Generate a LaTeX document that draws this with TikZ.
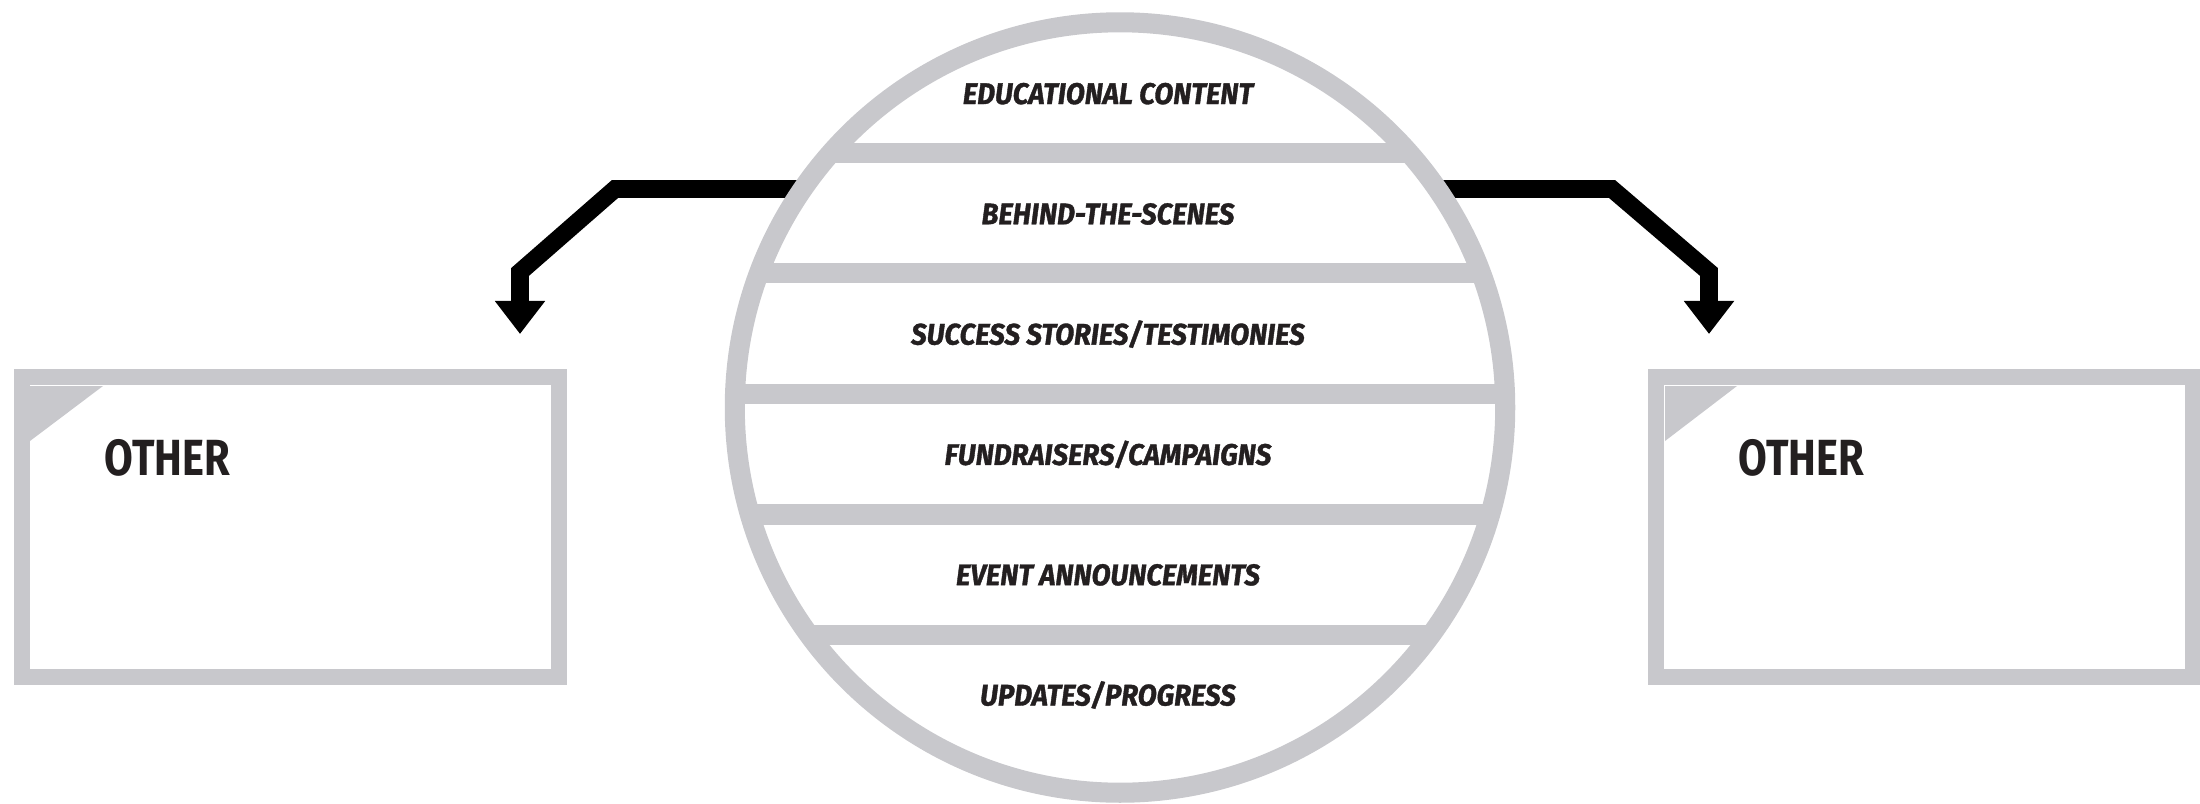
\documentclass[tikz,border=0pt]{standalone}
\usepackage{fontspec}
\usetikzlibrary{arrows.meta}
\newfontfamily\itemfont{Fira Sans}[FakeStretch=0.93,FakeBold=1.2]
\newfontfamily\boxfont{Fira Sans}[FakeStretch=0.82]
\definecolor{ringgray}{RGB}{200,200,204}
\definecolor{inkdark}{RGB}{35,31,32}

\begin{document}
\begin{tikzpicture}[x=0.01cm,y=-0.01cm,
  ring/.style={circle,draw=ringgray,fill=white,line width=5.7pt,inner sep=0pt,minimum size=7.7cm},
  panel/.style={rectangle,draw=ringgray,line width=4.55pt,inner sep=0pt,minimum width=5.37cm,minimum height=3cm},
  band/.style={draw=ringgray,line width=5.7pt},
  item/.style={font=\itemfont\bfseries\itshape\fontsize{8.47}{10}\selectfont,text=inkdark,inner sep=0pt,anchor=base},
  tag/.style={font=\boxfont\bfseries\fontsize{14.45}{16}\selectfont,text=inkdark,inner sep=0pt,anchor=base west},
  flow/.style={line width=5pt,-{Triangle[width=13.7pt,length=9.4pt]}}]
  \useasboundingbox (0,0) rectangle (2200,803);
  % side boxes
  \node[panel] (leftbox) at (290.5,527) {};
  \node[panel] (rightbox) at (1924.5,527) {};
  \fill[ringgray] (30,386) -- (103,386) -- (30,441) -- cycle;
  \fill[ringgray] (1665,386) -- (1737,386) -- (1665,441) -- cycle;
  \node[tag] (lefttag) at (104,475) {OTHER};
  \node[tag] (righttag) at (1738,475) {OTHER};
  % arrows, start hidden under the circle
  \coordinate (hubc) at (1120,407.5);
  \coordinate (lbend) at (615,189);
  \coordinate (lknee) at (520,272);
  \coordinate (ltip) at (520,334);
  \coordinate (rbend) at (1612,189);
  \coordinate (rknee) at (1709,272);
  \coordinate (rtip) at (1709,334);
  \draw[flow] (lbend -| hubc) -- (lbend) -- (lknee) -- (ltip);
  \draw[flow] (rbend -| hubc) -- (rbend) -- (rknee) -- (rtip);
  \node[ring] (hub) at (hubc) {};
  % bands inside the circle
  \begin{scope}
    \clip (hub.center) circle (385);
    \foreach \y in {152.7,273.3,393.9,514.5,635.1}
      \draw[band] (700,\y) -- (1540,\y);
  \end{scope}
  \foreach \txt [count=\i from 0] in {EDUCATIONAL CONTENT,BEHIND-THE-SCENES,SUCCESS STORIES/TESTIMONIES,FUNDRAISERS/CAMPAIGNS,EVENT ANNOUNCEMENTS,UPDATES/PROGRESS}
    \node[item] (item\i) at (1108,{104+120.3*\i}) {\txt};
\end{tikzpicture}
\end{document}
